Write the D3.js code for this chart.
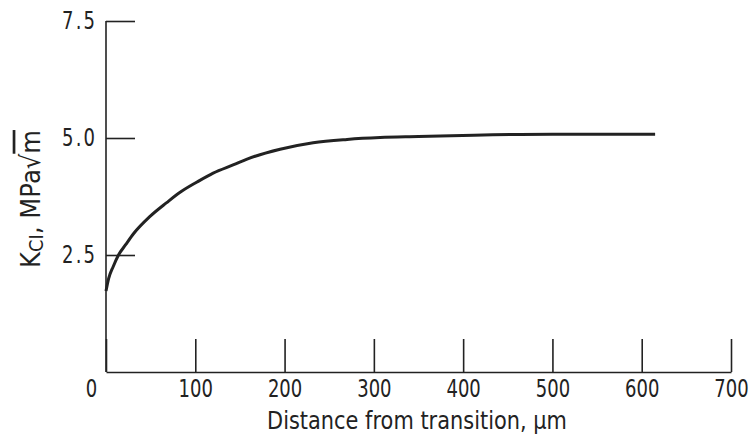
<!DOCTYPE html>
<html>
<head>
<meta charset="utf-8">
<script src="https://cdn.jsdelivr.net/npm/d3@7"></script>
<style>
  body { margin: 0; background: #fff; }
  text { font-family: "DejaVu Sans", sans-serif; fill: #222; }
</style>
</head>
<body>
<script>
// Curve: distance (um) vs K_CI (MPa sqrt m)
var distance = [0, 3, 8, 14, 22, 31, 49, 68, 83, 102, 120, 143, 158, 195, 232, 270, 307, 350, 412, 500, 615];
var kci = [1.73, 2.0, 2.25, 2.5, 2.72, 2.96, 3.32, 3.62, 3.84, 4.06, 4.25, 4.43, 4.55, 4.76, 4.90, 4.97, 5.01, 5.03, 5.06, 5.08, 5.08];

var xTicks = [0, 100, 200, 300, 400, 500, 600, 700];
var yTicks = [2.5, 5.0, 7.5];

var svgWidth = 754;
var svgHeight = 436;
var squeeze = 0.75; // the original lettering is tall and narrow

var svg = d3.select("body")
  .append("svg")
  .attr("width", svgWidth)
  .attr("height", svgHeight);

var xScale = d3.scaleLinear()
  .domain([0, 700])
  .range([106, 731]);

var yScale = d3.scaleLinear()
  .domain([0, 7.5])
  .range([372, 21]);

// ticks point inward, like the original
var bottomAxis = d3.axisBottom(xScale)
  .tickValues(xTicks)
  .tickFormat(d3.format("d"))
  .tickSizeInner(-33)
  .tickSizeOuter(0)
  .tickPadding(8);

var leftAxis = d3.axisLeft(yScale)
  .tickValues(yTicks)
  .tickFormat(d3.format(".1f"))
  .tickSizeInner(-29)
  .tickSizeOuter(0)
  .tickPadding(11);

var xg = svg.append("g")
  .attr("transform", `translate(0, ${yScale(0)})`)
  .call(bottomAxis);

var yg = svg.append("g")
  .attr("transform", `translate(${xScale(0)}, 0)`)
  .call(leftAxis);

[xg, yg].forEach(function(g) {
  g.selectAll("path, line").attr("stroke", "#222").attr("stroke-width", 1.6);
  g.selectAll("text")
    .style("font-size", "24px")
    .attr("fill", "#222")
    .attr("transform", `scale(${squeeze}, 1)`);
});
// y labels are typed with a wide-spaced decimal point
yg.selectAll(".tick text")
  .attr("x", -11 / squeeze)
  .attr("textLength", 33 / squeeze)
  .attr("lengthAdjust", "spacing");

// the "0" label sits a little left of the corner
xg.selectAll(".tick text").filter(d => d === 0).attr("dx", -20);

// y-axis domain only runs from 0 to 7.5
yg.select(".domain").attr("d", `M0,${yScale(0)}V${yScale(7.5)}`);

var line = d3.line()
  .x((d, i) => xScale(distance[i]))
  .y(d => yScale(d))
  .curve(d3.curveMonotoneX);

svg.append("path")
  .datum(kci)
  .attr("fill", "none")
  .attr("stroke", "#222")
  .attr("stroke-width", 3)
  .attr("d", line);

// squeeze a text element so it spans a given width
function fitWidth(sel, width, prefix) {
  var w = sel.node().getComputedTextLength();
  sel.attr("transform", `${prefix} scale(${width / w}, 1)`);
}

// axis titles
var xLabel = svg.append("text")
  .attr("text-anchor", "middle")
  .style("font-size", "24.5px")
  .text("Distance from transition, \u00b5m");
fitWidth(xLabel, 300, "translate(417, 429)");

var yLabel = svg.append("text")
  .attr("text-anchor", "middle")
  .style("font-size", "27px");
yLabel.append("tspan").text("K");
yLabel.append("tspan").attr("dy", 3).style("font-size", "20px").text("CI");
yLabel.append("tspan").attr("dy", -3).text(", MPa");
yLabel.append("tspan").text("\u221a");
yLabel.append("tspan").style("text-decoration", "overline").text("m");
fitWidth(yLabel, 138, "translate(40, 199) rotate(-90)");
</script>
</body>
</html>
